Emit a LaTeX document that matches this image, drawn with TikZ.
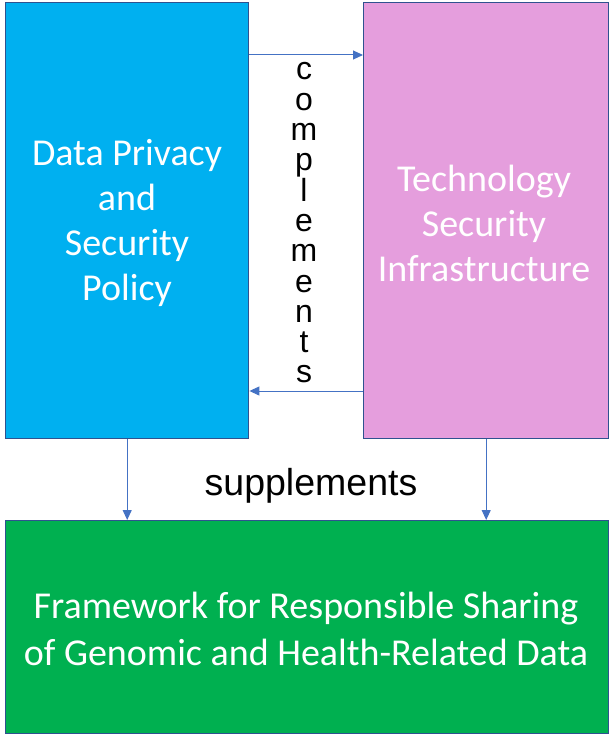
\documentclass[tikz,border=0pt]{standalone}
\usepackage{fontspec}
\setmainfont{Carlito}
\newfontfamily\arialf{Liberation Sans}
\usetikzlibrary{arrows.meta,calc}
\definecolor{boxblue}{HTML}{00B0F0}
\definecolor{boxpink}{HTML}{E59EDD}
\definecolor{boxgreen}{HTML}{00B050}
\definecolor{edgeblue}{HTML}{2F528F}
\definecolor{arrblue}{HTML}{4472C4}
\tikzset{
  panel/.style={draw=edgeblue, line width=1.4pt, inner sep=0pt, text=white, align=center,
    font=\fontsize{38}{45}\selectfont},
  arr/.style={draw=arrblue, line width=1pt, -{Triangle[length=10pt,width=9pt]}},
  lbl/.style={font=\arialf\fontsize{37.5}{37.5}\selectfont, text=black, align=center}
}
\begin{document}
\begin{tikzpicture}[x=1pt,y=-1pt]
\useasboundingbox (0,0) rectangle (612,735);
\node[panel, fill=boxblue, minimum width=243pt, minimum height=436pt, anchor=north west] (blue) at (5,2) {};
\node[panel, fill=boxpink, minimum width=245pt, minimum height=436pt, anchor=north west] (pink) at (363,2) {};
\node[panel, fill=boxgreen, minimum width=603pt, minimum height=213pt, anchor=north west] (green) at (5,520) {};
\node[panel, draw=none] (bluetext) at (127,223) {Data Privacy\\and\\Security\\Policy};
\node[panel, draw=none] (pinktext) at (484,223) {Technology\\Security\\Infrastructure};
\node[panel, draw=none, font=\fontsize{38}{47}\selectfont] (greentext) at (306,629) {Framework for Responsible Sharing\\of Genomic and Health-Related Data};
\coordinate (a1) at (0,55);
\coordinate (a2) at (0,391);
\draw[arr] (blue.east |- a1) -- (pink.west |- a1);
\draw[arr] (pink.west |- a2) -- (blue.east |- a2);
\draw[arr] (blue.south) -- (blue.south |- green.north);
\draw[arr] (pink.south) -- (pink.south |- green.north);
\node[font=\arialf\fontsize{32}{30.3}\selectfont, align=center, inner sep=0pt] (comp) at (304,223)
  {c\\o\\m\\p\\l\\e\\m\\e\\n\\t\\s};
\node[lbl] (supp) at (311,486) {supplements};
\end{tikzpicture}
\end{document}
